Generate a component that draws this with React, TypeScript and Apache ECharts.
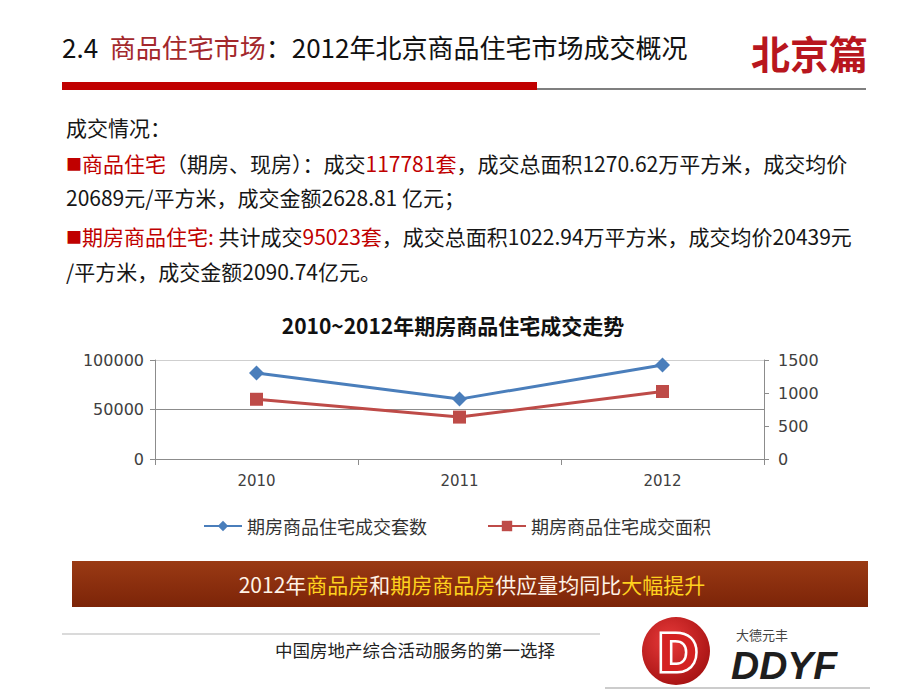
import React, { useEffect, useRef } from "react";
import * as echarts from "echarts";

const years = ["2010", "2011", "2012"];
const unitsSold = [86900, 60500, 95023];
const areaSold = [905, 635, 1022.94];
const seriesNames = ["期房商品住宅成交套数", "期房商品住宅成交面积"];
const leftTicks = { min: 0, max: 100000, interval: 50000 };
const rightTicks = { min: 0, max: 1500, interval: 500 };

const CJK = '"Noto Sans CJK SC", "Noto Sans", sans-serif';

export default function App() {
  const ref = useRef<HTMLDivElement>(null);
  useEffect(() => {
    if (!ref.current) return;
    const chart = echarts.init(ref.current, null, { renderer: "svg" });
    const red = "#c00000";
    const body = "#161616";
    const lineText = (y: number, rich: string) => ({
      type: "text",
      left: 66,
      top: y - 13,
      style: {
        text: rich,
        fontFamily: CJK,
        fontSize: 21,
        fill: body,
        rich: {
          r: { fontFamily: CJK, fontSize: 21, fill: red, color: red },
          n: { fontFamily: CJK, fontSize: 21, fill: body, color: body },
          s: { fontFamily: CJK, fontSize: 16, fill: red, color: red },
        },
      },
    });
    const plain = (v: number) => String(v);
    chart.setOption({
      animation: false,
      backgroundColor: "#ffffff",
      grid: { left: 155, right: 156, top: 360, bottom: 231, containLabel: false },
      legend: {
        left: 198,
        top: 512,
        itemWidth: 38,
        itemHeight: 13,
        itemGap: 60,
        textStyle: { fontFamily: CJK, fontSize: 18, color: "#333" },
        data: seriesNames,
      },
      xAxis: {
        type: "category",
        data: years,
        axisLine: { lineStyle: { color: "#8c8c8c", width: 1 } },
        axisTick: { show: true, length: 6, lineStyle: { color: "#8c8c8c" } },
        axisLabel: { fontFamily: "DejaVu Sans", fontSize: 15, color: "#404040", margin: 14 },
      },
      yAxis: [
        {
          type: "value",
          ...leftTicks,
          axisLine: { show: true, lineStyle: { color: "#8c8c8c" } },
          axisTick: { show: true, length: 5, lineStyle: { color: "#8c8c8c" } },
          axisLabel: { fontFamily: "DejaVu Sans", fontSize: 16, color: "#404040", margin: 11, formatter: plain },
          splitLine: { show: true, lineStyle: { color: ["#8c8c8c", "#8c8c8c", "#cfcfcf"], width: 1 } },
        },
        {
          type: "value",
          ...rightTicks,
          axisLine: { show: true, lineStyle: { color: "#8c8c8c" } },
          axisTick: { show: true, length: 5, lineStyle: { color: "#8c8c8c" } },
          axisLabel: { fontFamily: "DejaVu Sans", fontSize: 16, color: "#404040", margin: 14, formatter: plain },
          splitLine: { show: false },
        },
      ],
      series: [
        {
          name: seriesNames[0],
          type: "line",
          data: unitsSold,
          yAxisIndex: 0,
          symbol: "diamond",
          symbolSize: 15,
          lineStyle: { color: "#4a7ebb", width: 3 },
          itemStyle: { color: "#4a7ebb" },
        },
        {
          name: seriesNames[1],
          type: "line",
          data: areaSold,
          yAxisIndex: 1,
          symbol: "rect",
          symbolSize: 13,
          lineStyle: { color: "#be4b48", width: 3 },
          itemStyle: { color: "#be4b48" },
        },
      ],
      graphic: [
        {
          type: "text",
          left: 62,
          top: 33,
          style: {
            text: "{n|2.4  }{r|商品住宅市场}{n|：2012年北京商品住宅市场成交概况}",
            fontFamily: CJK,
            fontSize: 26,
            rich: {
              n: { fontFamily: CJK, fontSize: 26, fill: "#111", color: "#111" },
              r: { fontFamily: CJK, fontSize: 26, fill: "#a3282c", color: "#a3282c" },
            },
          },
        },
        {
          type: "text",
          left: 751,
          top: 32,
          style: {
            text: "北京篇",
            fontFamily: CJK,
            fontSize: 39,
            fontWeight: "bold",
            fill: "#b8161e",
          },
        },
        { type: "rect", shape: { x: 62, y: 82, width: 475, height: 8 }, style: { fill: "#c00000" } },
        { type: "line", shape: { x1: 537, y1: 89, x2: 866, y2: 89 }, style: { stroke: "#555", lineWidth: 1.5 } },
        lineText(129, "{n|成交情况：}"),
        lineText(165, "{s|■}{r|商品住宅}{n|（期房、现房）：成交}{r|117781套}{n|，成交总面积1270.62万平方米，成交均价}"),
        lineText(199, "{n|20689元/平方米，成交金额2628.81 亿元；}"),
        lineText(238, "{s|■}{r|期房商品住宅: }{n|共计成交}{r|95023套}{n|，成交总面积1022.94万平方米，成交均价20439元}"),
        lineText(273, "{n|/平方米，成交金额2090.74亿元。}"),
        {
          type: "text",
          x: 453,
          y: 325,
          style: {
            text: "2010~2012年期房商品住宅成交走势",
            fontFamily: CJK,
            fontSize: 21,
            fontWeight: "bold",
            fill: "#111",
            align: "center",
            verticalAlign: "middle",
          },
        },
        {
          type: "rect",
          shape: { x: 72, y: 561, width: 796, height: 46 },
          style: {
            fill: new echarts.graphic.LinearGradient(0, 0, 0, 1, [
              { offset: 0, color: "#9a3a14" },
              { offset: 1, color: "#7c2408" },
            ]),
          },
        },
        {
          type: "text",
          x: 472,
          y: 584,
          style: {
            text: "{w|2012年}{y|商品房}{w|和}{y|期房商品房}{w|供应量均同比}{y|大幅提升}",
            fontFamily: CJK,
            fontSize: 21,
            align: "center",
            verticalAlign: "middle",
            rich: {
              w: { fontFamily: CJK, fontSize: 21, fill: "#fff3e6", color: "#fff3e6" },
              y: { fontFamily: CJK, fontSize: 21, fill: "#ffd21e", color: "#ffd21e" },
            },
          },
        },
        { type: "line", shape: { x1: 62, y1: 634, x2: 600, y2: 634 }, style: { stroke: "#b5b5b5", lineWidth: 1 } },
        {
          type: "text",
          left: 275,
          top: 642,
          style: {
            text: "中国房地产综合活动服务的第一选择",
            fontFamily: 'serif, "Noto Sans CJK SC"',
            fontSize: 17.5,
            fill: "#222",
          },
        },
        { type: "line", shape: { x1: 605, y1: 688, x2: 870, y2: 688 }, style: { stroke: "#999", lineWidth: 1 } },
        {
          type: "circle",
          shape: { cx: 676, cy: 651, r: 34 },
          style: {
            fill: new echarts.graphic.RadialGradient(0.4, 0.35, 0.8, [
              { offset: 0, color: "#e83a3a" },
              { offset: 1, color: "#9c0c0c" },
            ]),
          },
        },
        {
          type: "text",
          x: 678,
          y: 652,
          style: {
            text: "D",
            fontFamily: "Liberation Sans",
            fontSize: 54,
            fontWeight: "bold",
            fill: "#d42222",
            stroke: "#ffffff",
            lineWidth: 5,
            align: "center",
            verticalAlign: "middle",
          },
        },
        {
          type: "text",
          left: 736,
          top: 626,
          style: { text: "大德元丰", fontFamily: CJK, fontSize: 13, lineHeight: 16, fill: "#444" },
        },
        {
          type: "text",
          left: 731,
          top: 646,
          style: {
            text: "DDYF",
            fontFamily: "Liberation Sans",
            fontSize: 39,
            lineHeight: 36,
            fontWeight: "bold",
            fontStyle: "italic",
            fill: "#1e1e1e",
          },
        },
      ],
    });
    return () => chart.dispose();
  }, []);
  return (
    <div
      ref={ref}
      style={{ position: "fixed", left: 0, top: 0, width: 920, height: 690, background: "#fff" }}
    />
  );
}
